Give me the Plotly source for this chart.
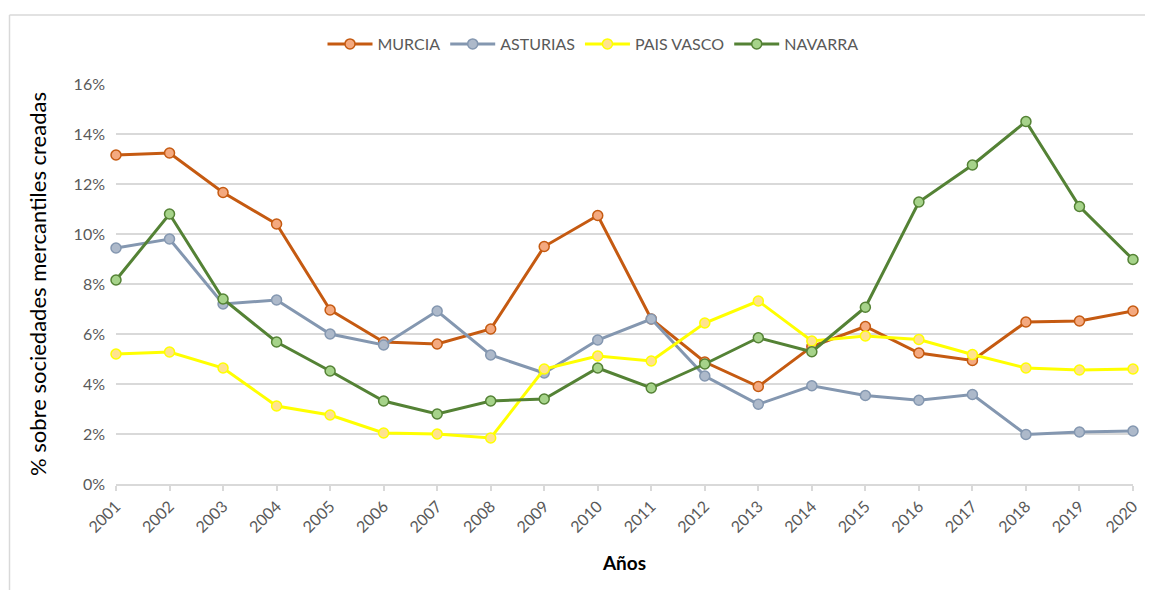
import plotly.graph_objects as go

years = [str(y) for y in range(2001, 2021)]

murcia = [13.16, 13.24, 11.66, 10.4, 6.96, 5.68, 5.6, 6.2, 9.5, 10.74, 6.6, 4.88, 3.9, 5.5, 6.3, 5.24, 4.94, 6.48, 6.52, 6.92]
asturias = [9.44, 9.8, 7.2, 7.36, 6.0, 5.56, 6.92, 5.16, 4.44, 5.76, 6.6, 4.32, 3.19, 3.93, 3.54, 3.35, 3.58, 1.98, 2.08, 2.12]
pais_vasco = [5.2, 5.28, 4.64, 3.12, 2.76, 2.04, 2.0, 1.84, 4.6, 5.12, 4.92, 6.44, 7.32, 5.72, 5.92, 5.78, 5.18, 4.64, 4.56, 4.6]
navarra = [8.16, 10.8, 7.4, 5.68, 4.52, 3.32, 2.8, 3.32, 3.4, 4.64, 3.84, 4.8, 5.85, 5.29, 7.07, 11.28, 12.76, 14.5, 11.1, 8.98]

series = [
    ("MURCIA", murcia, "#C55A11", "#F4A97F"),
    ("ASTURIAS", asturias, "#8497B0", "#ADB9CA"),
    ("PAIS VASCO", pais_vasco, "#FFFF00", "#FFE28F"),
    ("NAVARRA", navarra, "#548235", "#A6D38A"),
]

FONT = "Lato, 'Open Sans', sans-serif"

fig = go.Figure()
for name, vals, line_c, fill_c in series:
    fig.add_trace(go.Scatter(
        x=years, y=[v / 100 for v in vals], name=name, mode="lines+markers",
        line=dict(color=line_c, width=3),
        marker=dict(size=10, color=fill_c, line=dict(color=line_c, width=1.5)),
        cliponaxis=False,
    ))

# page offset (body margin) compensation
OFF = 7
W, H = 1153 - OFF, 590 - OFF
L, T = 115 - OFF, 83 - OFF
R = W - (1132 - OFF)
B = H - (483 - OFF)
pw, ph = W - L - R, H - T - B

def px_x(p):
    return (p - OFF - L) / pw

def px_y(p):
    return (H - B - (p - OFF)) / ph

fig.update_layout(
    width=W, height=H,
    margin=dict(l=L, r=R, t=T, b=B),
    paper_bgcolor="white", plot_bgcolor="white",
    font=dict(family=FONT, color="#595959", size=14),
    showlegend=True,
    legend=dict(orientation="h", x=px_x(592), xanchor="center", y=px_y(43), yanchor="middle",
                font=dict(size=16, color="#595959"), itemwidth=45, traceorder="normal",
                bgcolor="rgba(0,0,0,0)"),
    xaxis=dict(
        type="category", range=[0, 19], tickangle=-45,
        showgrid=False, showline=True, linecolor="#D9D9D9", linewidth=1.5,
        ticks="outside", ticklen=5, tickcolor="#D9D9D9", tickwidth=1.5,
        tickfont=dict(size=16, color="#595959"),
        title=dict(text="<b>Años</b>", font=dict(size=19, color="#000000"), standoff=22),
    ),
    yaxis=dict(
        range=[0, 0.16], dtick=0.02, tickformat=".0%",
        showgrid=True, gridcolor="#D9D9D9", gridwidth=1.5,
        zeroline=False, showline=False, ticks="",
        ticklabelstandoff=10,
        tickfont=dict(size=16, color="#595959"),
        title=dict(text="% sobre sociedades mercantiles creadas", font=dict(size=22, color="#000000"), standoff=20),
    ),
    shapes=[
        dict(type="line", xref="paper", yref="paper", x0=px_x(8.5), x1=px_x(8.5), y0=px_y(14), y1=px_y(600),
             line=dict(color="#D9D9D9", width=1.5)),
        dict(type="line", xref="paper", yref="paper", x0=px_x(8.5), x1=px_x(1160), y0=px_y(14), y1=px_y(14),
             line=dict(color="#D9D9D9", width=1.5)),
    ],
)

fig.write_html("out.html")
